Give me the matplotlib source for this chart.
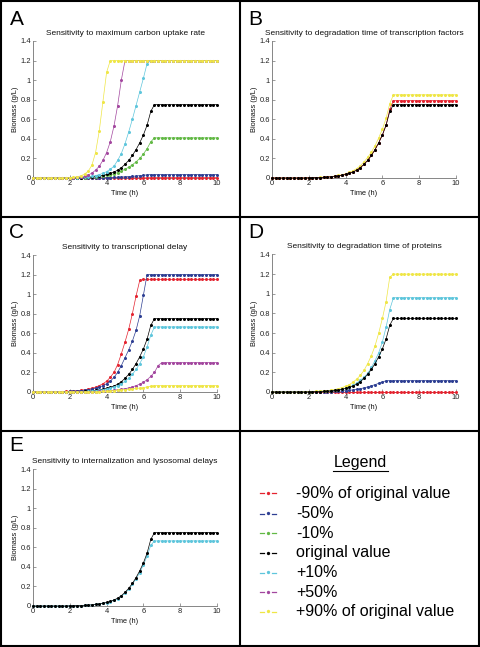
import numpy as np
import matplotlib
matplotlib.use("Agg")
import matplotlib.pyplot as plt
from matplotlib.lines import Line2D

plt.rcParams['font.family'] = ['Liberation Sans', 'DejaVu Sans']

# ---------------- data (biomass g/L, sampled every 0.2 h) ----------------
TIME = np.round(np.arange(0, 10.001, 0.2), 1)

ORIGINAL = ([0] * 10 +
            [0.002, 0.003, 0.004, 0.005, 0.007, 0.009, 0.012, 0.016, 0.021, 0.028,
             0.036, 0.047, 0.061, 0.08, 0.105, 0.14, 0.18, 0.23, 0.29, 0.36,
             0.44, 0.54, 0.68] +
            [0.75] * 18)

# Panel A: maximum carbon uptake rate
A_RED = [0] * 20 + [0.002] * 12 + [0.004] * 19
A_BLUE = ([0] * 20 +
          [0.004, 0.005, 0.006, 0.008, 0.01, 0.012, 0.014, 0.017, 0.02, 0.024, 0.028, 0.032] +
          [0.035] * 19)
A_GREEN = ([0] * 12 +
           [0.003, 0.004, 0.005, 0.007, 0.009, 0.012, 0.016, 0.021, 0.027, 0.034,
            0.043, 0.055, 0.07, 0.09, 0.11, 0.135, 0.165, 0.2, 0.245, 0.3, 0.37] +
           [0.41] * 18)
A_BLACK = ORIGINAL
A_CYAN = ([0] * 12 +
          [0.004, 0.006, 0.009, 0.013, 0.018, 0.025, 0.035, 0.048, 0.065, 0.09,
           0.12, 0.18, 0.25, 0.35, 0.47, 0.6, 0.74, 0.88, 1.02, 1.17] +
          [1.2] * 19)
A_MAGENTA = ([0] * 12 +
             [0.008, 0.012, 0.02, 0.03, 0.05, 0.08, 0.12, 0.18, 0.26, 0.37, 0.53, 0.74, 1.0] +
             [1.2] * 26)
A_YELLOW = ([0] * 10 +
            [0.005, 0.008, 0.013, 0.022, 0.04, 0.07, 0.13, 0.26, 0.48, 0.78, 1.08] +
            [1.2] * 30)

# Panel B: degradation time of transcription factors
B_YELLOW = ([0] * 10 +
            [0.003, 0.004, 0.005, 0.007, 0.009, 0.012, 0.015, 0.02, 0.026, 0.034,
             0.044, 0.057, 0.074, 0.096, 0.125, 0.165, 0.21, 0.265, 0.33, 0.41,
             0.5, 0.61, 0.76] +
            [0.85] * 18)
B_RED = ([0] * 10 +
         [0.002, 0.003, 0.004, 0.005, 0.007, 0.009, 0.012, 0.016, 0.021, 0.028,
          0.036, 0.047, 0.061, 0.08, 0.105, 0.14, 0.18, 0.23, 0.29, 0.36,
          0.44, 0.54, 0.70] +
         [0.79] * 18)
B_BLACK = ORIGINAL

# Panel C: transcriptional delay
C_RED = ([0] * 8 +
         [0.004, 0.006, 0.008, 0.011, 0.014, 0.018, 0.023, 0.03, 0.038, 0.05, 0.065,
          0.085, 0.11, 0.15, 0.2, 0.28, 0.39, 0.51, 0.64, 0.8, 0.98, 1.14] +
         [1.15] * 21)
C_BLUE = ([0] * 8 +
          [0.003, 0.004, 0.006, 0.008, 0.01, 0.014, 0.018, 0.023, 0.03, 0.038, 0.05,
           0.065, 0.085, 0.11, 0.15, 0.2, 0.27, 0.35, 0.43, 0.52, 0.63, 0.78, 0.99] +
          [1.2] * 20)
C_BLACK = ORIGINAL
C_CYAN = ([0] * 15 +
          [0.008, 0.01, 0.013, 0.017, 0.022, 0.03, 0.04, 0.05, 0.065, 0.085,
           0.11, 0.14, 0.18, 0.23, 0.29, 0.36, 0.46, 0.58] +
          [0.665] * 18)
C_MAGENTA = ([0] * 15 +
             [0.003, 0.004, 0.005, 0.007, 0.009, 0.012, 0.015, 0.018, 0.023, 0.028,
              0.034, 0.042, 0.052, 0.065, 0.08, 0.1, 0.125, 0.16, 0.2, 0.27] +
             [0.30] * 16)
C_YELLOW = ([0] * 18 +
            [0.004, 0.006, 0.008, 0.01, 0.013, 0.016, 0.02, 0.024, 0.028, 0.032,
             0.036, 0.04, 0.045, 0.052, 0.06] +
            [0.065] * 18)

# Panel D: degradation time of proteins
D_RED = [0] * 51
D_BLUE = ([0] * 12 +
          [0.002, 0.003, 0.003, 0.004, 0.005, 0.007, 0.008, 0.01, 0.013, 0.017,
           0.021, 0.027, 0.034, 0.042, 0.052, 0.063, 0.075, 0.088, 0.102] +
          [0.115] * 20)
D_BLACK = ORIGINAL
D_CYAN = ([0] * 12 +
          [0.005, 0.006, 0.008, 0.01, 0.013, 0.017, 0.023, 0.03, 0.04, 0.052,
           0.068, 0.09, 0.12, 0.15, 0.19, 0.25, 0.32, 0.4, 0.51, 0.66, 0.84] +
          [0.96] * 18)
D_YELLOW = ([0] * 9 +
            [0.003, 0.004, 0.005, 0.007, 0.009, 0.011, 0.014, 0.019, 0.025, 0.034,
             0.045, 0.058, 0.075, 0.1, 0.13, 0.17, 0.22, 0.29, 0.37, 0.47,
             0.6, 0.75, 0.92, 1.17] +
            [1.2] * 18)

# Panel E: internalization and lysosomal delays
E_CYAN = ([0] * 10 +
          [0.002, 0.003, 0.004, 0.005, 0.007, 0.009, 0.012, 0.016, 0.021, 0.027,
           0.034, 0.044, 0.057, 0.075, 0.1, 0.13, 0.17, 0.22, 0.28, 0.34,
           0.42, 0.51, 0.62] +
          [0.665] * 18)
E_BLACK = ORIGINAL

TITLES = ["Sensitivity to maximum carbon uptake rate",
          "Sensitivity to degradation time of transcription factors",
          "Sensitivity to transcriptional delay",
          "Sensitivity to degradation time of proteins",
          "Sensitivity to internalization and lysosomal delays"]
LETTERS = ["A", "B", "C", "D", "E"]
LEGEND_LABELS = ["-90% of original value", "-50%", "-10%", "original value",
                 "+10%", "+50%", "+90% of original value"]
X_TICKS = [0, 2, 4, 6, 8, 10]
Y_TICKS = [0, 0.2, 0.4, 0.6, 0.8, 1.0, 1.2, 1.4]
Y_TICKLABELS = ["0", "0.2", "0.4", "0.6", "0.8", "1", "1.2", "1.4"]

# ---------------- style ----------------
COL = {"red": "#e42430", "blue": "#2e3f93", "green": "#63b946", "black": "#000000",
       "cyan": "#5fc6dc", "magenta": "#a3479f", "yellow": "#efe646"}

PANELS = [
    [("red", A_RED), ("blue", A_BLUE), ("green", A_GREEN), ("black", A_BLACK),
     ("cyan", A_CYAN), ("magenta", A_MAGENTA), ("yellow", A_YELLOW)],
    [("yellow", B_YELLOW), ("red", B_RED), ("black", B_BLACK)],
    [("red", C_RED), ("blue", C_BLUE), ("black", C_BLACK), ("cyan", C_CYAN),
     ("magenta", C_MAGENTA), ("yellow", C_YELLOW)],
    [("red", D_RED), ("blue", D_BLUE), ("cyan", D_CYAN), ("yellow", D_YELLOW),
     ("black", D_BLACK)],
    [("cyan", E_CYAN), ("black", E_BLACK)],
]
LEGEND_COLORS = ["red", "blue", "green", "black", "cyan", "magenta", "yellow"]

W, H = 480, 647
fig = plt.figure(figsize=(W / 100, H / 100), dpi=100)
fig.patch.set_facecolor("white")


def fx(px):
    return px / W


def fy(py):
    return 1 - py / H


# axes boxes in pixels: left, top, right, bottom
BOXES = [(33, 41, 217, 178), (272, 41, 456, 178),
         (33, 255, 217, 392), (272, 254.5, 456, 392),
         (33, 469, 217, 606)]
LETTER_POS = [(9.5, 25), (248, 25), (9.5, 238), (248, 238), (9.5, 451)]

for i, (box, series) in enumerate(zip(BOXES, PANELS)):
    l, t, r, b = box
    ax = fig.add_axes([fx(l), fy(b), (r - l) / W, (b - t) / H])
    for cname, vals in series:
        ax.plot(TIME, vals, color=COL[cname], lw=0.5, marker='o', ms=2.2,
                mew=0, clip_on=False, zorder=3)
    ax.set_xlim(0, 10)
    ax.set_ylim(0, 1.4)
    ax.set_xticks(X_TICKS)
    ax.set_yticks(Y_TICKS)
    ax.set_yticklabels(Y_TICKLABELS)
    for s in ("top", "right"):
        ax.spines[s].set_visible(False)
    for s in ("left", "bottom"):
        ax.spines[s].set_color("0.45")
        ax.spines[s].set_linewidth(0.6)
    ax.tick_params(direction="in", length=2, width=0.5, color="0.45",
                   labelsize=5.4, labelcolor="#222222", pad=1.5)
    ax.set_title(TITLES[i], fontsize=6, pad=4.5, color="#111111")
    ax.set_xlabel("Time (h)", fontsize=5.3, color="#111111")
    ax.set_ylabel("Biomass (g/L)", fontsize=5.3, color="#111111")
    ax.xaxis.set_label_coords(0.5, -0.09)
    ax.yaxis.set_label_coords(-0.075, 0.5)
    lx, ly = LETTER_POS[i]
    fig.text(fx(lx), fy(ly), LETTERS[i], fontsize=15, va="baseline", ha="left")

# ---------------- legend panel ----------------
fig.text(fx(360), fy(463), "Legend", fontsize=11.5, ha="center", va="center")
fig.add_artist(Line2D([fx(333), fx(388)], [fy(471), fy(471)], color="black", lw=0.8))
ROW_Y = [493.3, 513.5, 533.3, 553, 572.8, 592.3, 611.7]
for cname, label, yy in zip(LEGEND_COLORS, LEGEND_LABELS, ROW_Y):
    c = COL[cname]
    fig.add_artist(Line2D([fx(260), fx(264)], [fy(yy), fy(yy)], color=c, lw=0.9))
    fig.add_artist(Line2D([fx(271.5), fx(275.5)], [fy(yy), fy(yy)], color=c, lw=0.9))
    fig.add_artist(Line2D([fx(267.7)], [fy(yy - 0.5)], color=c, marker='o', ms=2.4,
                          mew=0, lw=0))
    fig.text(fx(296), fy(yy), label, fontsize=11.5, ha="left", va="center")

# ---------------- panel borders ----------------
BW = 1.5
for (x0, y0, x1, y1) in [(1, 1, 479, 1), (1, 645.5, 479, 645.5), (1, 1, 1, 645.5),
                         (478.5, 1, 478.5, 645.5), (240, 1, 240, 645.5),
                         (1, 216.5, 479, 216.5), (1, 431, 479, 431)]:
    fig.add_artist(Line2D([fx(x0), fx(x1)], [fy(y0), fy(y1)], color="black",
                          lw=BW, solid_capstyle="projecting"))

fig.savefig("out.png", dpi=100, facecolor="white")
